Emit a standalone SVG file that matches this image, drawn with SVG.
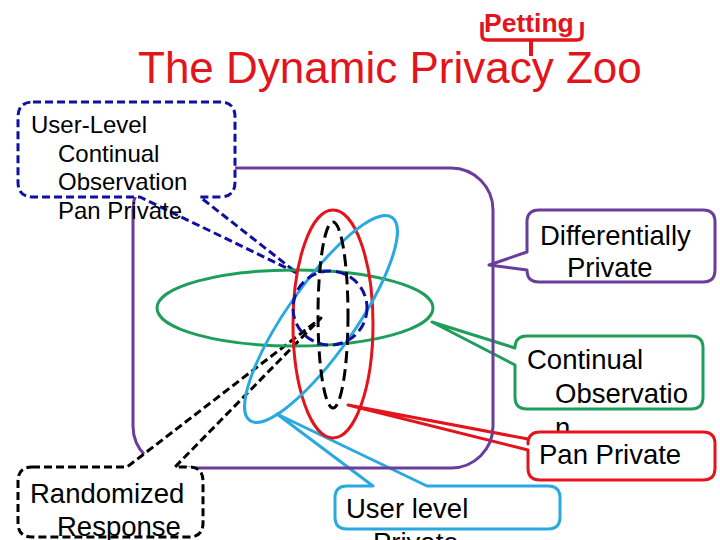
<svg xmlns="http://www.w3.org/2000/svg" width="720" height="540" viewBox="0 0 720 540">
<style>
text{font-family:"Liberation Sans",Arial,sans-serif;fill:#000}
.t{font-size:27.5px}
.s{font-size:24px}
.red{fill:#e2141c}
.co{fill:#fff;stroke-width:3;stroke-linejoin:round}
.el{fill:none;stroke-width:3}
</style>
<rect width="720" height="540" fill="#fff"/>
<g id="title">
<text x="138" y="83" class="red" style="font-size:44px">The Dynamic Privacy Zoo</text>
</g>
<g id="petting">
<text x="484" y="32" class="red" style="font-size:26.5px;font-weight:bold">Petting</text>
<path d="M482,22 V35 Q482,40 487,40 H577 Q582,40 582,35 V22" fill="none" stroke="#e2141c" stroke-width="3.5"/>
<path d="M531,40 V56" stroke="#e2141c" stroke-width="4"/>
</g>
<g id="user-level-private">
<path class="co" stroke="#2aa9e0" d="M347,486 H373 L277,414 L427,486 H548 Q560,486 560,498 V517 Q560,529 548,529 H347 Q335,529 335,517 V498 Q335,486 347,486 Z"/>
<text class="t" x="346" y="518">User level</text>
<text class="t" x="373" y="552">Private</text>
</g>
<g id="continual-observation">
<path class="co" stroke="#1e9e5a" d="M527,336 H691 Q703,336 703,348 V397 Q703,409 691,409 H527 Q515,409 515,397 V365 L432,322 L515,348 Q515,336 527,336 Z"/>
<text class="t" x="527" y="369">Continual</text>
<text class="t" x="555" y="403">Observatio</text>
<text class="t" x="555" y="437">n</text>
</g>
<g id="pan-private">
<path class="co" stroke="#e2141c" d="M540,432 H703 Q715,432 715,444 V468 Q715,480 703,480 H540 Q528,480 528,468 V450 L348,405 L528,439 V444 Q528,432 540,432 Z"/>
<text class="t" x="539" y="464">Pan Private</text>
</g>
<g id="dp-region">
<rect x="133" y="168" width="360" height="300" rx="42" ry="42" fill="none" stroke="#6a3d9a" stroke-width="3"/>
</g>
<g id="differentially-private">
<path class="co" stroke="#6a3d9a" d="M539,210 H703 Q715,210 715,222 V270 Q715,282 703,282 H539 Q527,282 527,270 L489,265 L527,252 V222 Q527,210 539,210 Z"/>
<text class="t" x="540" y="245">Differentially</text>
<text class="t" x="567" y="277">Private</text>
</g>
<g id="randomized-response">
<path class="co" stroke="#000" stroke-dasharray="8 4" d="M32,467 H127 L321,318 L175,467 H189 Q203,467 203,481 V523 Q203,537 189,537 H32 Q18,537 18,523 V481 Q18,467 32,467 Z"/>
<text class="t" x="30" y="503">Randomized</text>
<text class="t" x="57" y="536">Response</text>
</g>
<g id="user-level-co-pan-private">
<path class="co" stroke="#1010a0" stroke-dasharray="8 4" d="M33,102 H220 Q235,102 235,117 V182 Q235,197 220,197 H200 L297,273 L140,197 H33 Q18,197 18,182 V117 Q18,102 33,102 Z"/>
<text class="s" x="31" y="133">User-Level</text>
<text class="s" x="58" y="162">Continual</text>
<text class="s" x="58" y="190">Observation</text>
<text class="s" x="58" y="219">Pan Private</text>
</g>
<g id="regions">
<ellipse id="co-ellipse" class="el" cx="295" cy="308" rx="138" ry="38" stroke="#1e9e5a"/>
<ellipse id="pp-ellipse" class="el" cx="333" cy="324" rx="40" ry="114" stroke="#e2141c"/>
<ellipse id="ul-ellipse" class="el" cx="321" cy="319" rx="124" ry="34" transform="rotate(-55 321 319)" stroke="#2aa9e0"/>
<ellipse id="rr-ellipse" class="el" cx="333" cy="315" rx="15" ry="93" stroke="#000" stroke-width="3.5" stroke-dasharray="12 6"/>
<circle id="ulco-circle" class="el" cx="330" cy="308" r="37" stroke="#1010a0" stroke-width="3.5" stroke-dasharray="10 5"/>
</g>
<g id="connectors"/>
</svg>
